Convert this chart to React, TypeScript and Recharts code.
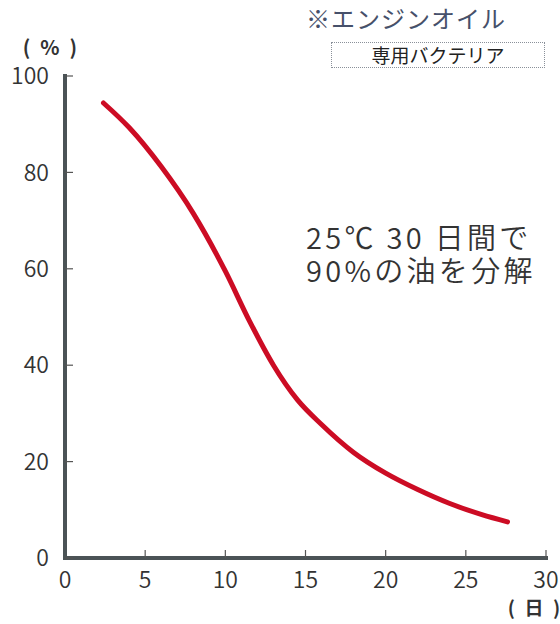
import React from 'react';
import { LineChart, Line, XAxis, YAxis } from 'recharts';

// remaining oil (%), by day
const DAYS = [2.4, 4, 6, 8, 10, 11.5, 13, 14.5, 16, 18, 20, 22, 24, 26, 27.6];
const REMAINING = [94.4, 89.3, 81.2, 71.5, 59.5, 49.2, 40, 32.8, 27.7, 21.9, 17.6, 14.2, 11.3, 9.0, 7.5];

const X_TICKS = [0, 5, 10, 15, 20, 25, 30];
const Y_TICKS = [0, 20, 40, 60, 80, 100];

const FONT = "'Noto Sans CJK JP', 'Noto Sans', sans-serif";
const AXIS_COLOR = '#4b5356';
const CURVE_COLOR = '#cc0c24';

const data = DAYS.map((d, i) => ({ day: d, pct: REMAINING[i] }));

const tickStyle = { fill: '#333', fontSize: 23, fontFamily: FONT, fontWeight: 350 };

export default function App() {
  return (
    <div style={{ position: 'absolute', left: 0, top: 0, width: 560, height: 624, background: '#fff', fontFamily: FONT }}>
      <LineChart width={560} height={624} data={data} margin={{ top: 76, right: 14, bottom: 36, left: 5 }}>
        <XAxis
          dataKey="day"
          type="number"
          domain={[0, 30]}
          ticks={X_TICKS}
          height={30}
          tick={tickStyle}
          tickSize={-8}
          tickMargin={22}
          axisLine={{ stroke: AXIS_COLOR, strokeWidth: 4, strokeLinecap: 'square' }}
          tickLine={{ stroke: '#555', strokeWidth: 1.2 }}
        />
        <YAxis
          type="number"
          domain={[0, 100]}
          ticks={Y_TICKS}
          width={60}
          tick={tickStyle}
          tickSize={-8}
          tickMargin={24}
          axisLine={{ stroke: AXIS_COLOR, strokeWidth: 4, strokeLinecap: 'square' }}
          tickLine={{ stroke: '#555', strokeWidth: 1.2 }}
        />
        <Line
          type="monotone"
          dataKey="pct"
          stroke={CURVE_COLOR}
          strokeWidth={5}
          strokeLinecap="round"
          dot={false}
          isAnimationActive={false}
        />
      </LineChart>

      {/* labels and notes */}
      <div style={{ position: 'absolute', left: 306, top: 6, fontSize: 24, lineHeight: '24px', letterSpacing: 1, color: '#46506a', whiteSpace: 'nowrap' }}>
        ※エンジンオイル
      </div>
      <div
        style={{
          position: 'absolute', left: 331, top: 42, width: 212, height: 24,
          border: '1px dotted #8a9099', fontSize: 19, lineHeight: '24px',
          textAlign: 'center', color: '#222', whiteSpace: 'nowrap',
        }}
      >
        専用バクテリア
      </div>
      <div style={{ position: 'absolute', left: 20, top: 36, width: 60, textAlign: 'center', fontSize: 20, lineHeight: '22px', fontWeight: 700, color: '#333', whiteSpace: 'pre' }}>
        {'(\u2002%\u2002)'}
      </div>
      <div style={{ position: 'absolute', left: 504, top: 596, width: 60, textAlign: 'center', fontSize: 19, lineHeight: '22px', fontWeight: 700, color: '#333', whiteSpace: 'pre' }}>
        {'(\u2002日\u2002)'}
      </div>
      <div style={{ position: 'absolute', left: 306, top: 222, fontSize: 29, lineHeight: '29px', letterSpacing: 3.3, fontWeight: 350, color: '#333', whiteSpace: 'nowrap' }}>
        25℃ 30 日間で
      </div>
      <div style={{ position: 'absolute', left: 306, top: 255, fontSize: 29, lineHeight: '29px', letterSpacing: 3.3, fontWeight: 350, color: '#333', whiteSpace: 'nowrap' }}>
        90%の油を分解
      </div>
    </div>
  );
}
